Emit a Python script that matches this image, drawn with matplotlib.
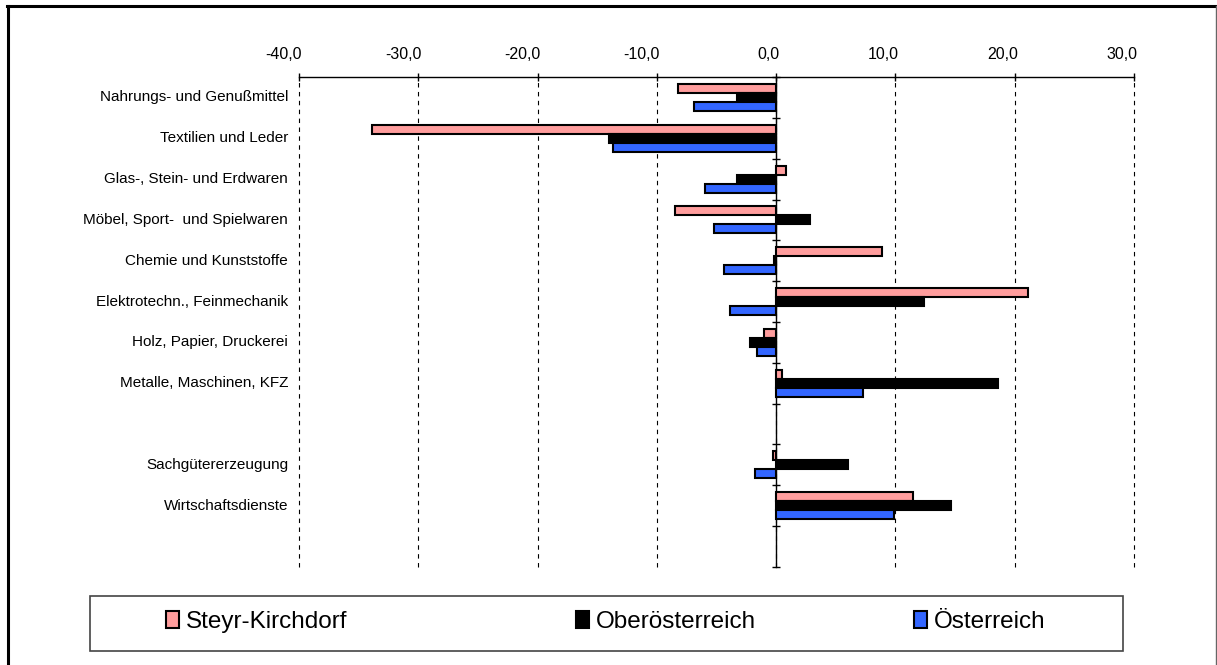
import numpy as np
import matplotlib
matplotlib.use("Agg")
import matplotlib.pyplot as plt
from matplotlib.lines import Line2D
from matplotlib.patches import Rectangle
from matplotlib.transforms import offset_copy

plt.rcParams['font.family'] = ['Liberation Sans', 'DejaVu Sans']

categories = [
    "Nahrungs- und Genußmittel",
    "Textilien und Leder",
    "Glas-, Stein- und Erdwaren",
    "Möbel, Sport-  und Spielwaren",
    "Chemie und Kunststoffe",
    "Elektrotechn., Feinmechanik",
    "Holz, Papier, Druckerei",
    "Metalle, Maschinen, KFZ",
    "",
    "Sachgütererzeugung",
    "Wirtschaftsdienste",
]
series_names = ["Steyr-Kirchdorf", "Oberösterreich", "Österreich"]
steyr = [-8.2, -33.9, 0.8, -8.5, 8.9, 21.1, -1.0, 0.5, np.nan, -0.3, 11.5]
ooe = [-3.3, -14.0, -3.3, 2.8, -0.2, 12.4, -2.2, 18.6, np.nan, 6.0, 14.7]
oe = [-6.9, -13.7, -6.0, -5.2, -4.4, -3.9, -1.6, 7.3, np.nan, -1.8, 9.9]
xticks = [-40, -30, -20, -10, 0, 10, 20, 30]

colors = ["#FF9D9D", "#000000", "#3366FF"]

W, H = 1217, 665
fig = plt.figure(figsize=(W / 100, H / 100), dpi=100)

x0, x1 = 299, 1134
y0, y1 = 77, 567
ax = fig.add_axes([x0 / W, 1 - y1 / H, (x1 - x0) / W, (y1 - y0) / H])

n_slots = len(categories) + 1
centers = np.arange(len(categories)) + 0.5
bh = 0.22
handles = []
for k, (vals, c) in enumerate(zip([steyr, ooe, oe], colors)):
    b = ax.barh(centers + (k - 1) * bh, vals, height=bh, color=c,
                edgecolor="black", linewidth=1.5, zorder=3, label=series_names[k])
    handles.append(b)

ax.set_xlim(xticks[0], xticks[-1])
ax.set_ylim(n_slots, 0)

# x axis on top
ax.xaxis.tick_top()
ax.set_xticks(xticks)
ax.set_xticklabels([])
ax.tick_params(axis="x", direction="inout", length=6, width=1, top=True, bottom=False)
ax.xaxis.grid(True, linestyle=(0, (4, 4)), color="black", linewidth=0.8)
for gl in ax.get_xgridlines():
    gl.set_clip_on(False)
ax.set_axisbelow(True)
xlab_trans = offset_copy(ax.get_xaxis_transform(), fig=fig, x=3, y=18, units="dots")
for v in xticks:
    ax.text(v, 1, f"{v:.1f}".replace(".", ","), transform=xlab_trans,
            ha="right", va="baseline", fontsize=11.5)

# y axis at x=0
ax.spines["left"].set_position(("data", 0))
ax.spines["right"].set_visible(False)
ax.spines["bottom"].set_visible(False)
ax.spines["top"].set_linewidth(1)
ax.spines["left"].set_linewidth(1)
ax.set_yticks(np.arange(n_slots + 1))
ax.set_yticklabels([])
ax.tick_params(axis="y", direction="inout", length=6, width=1)

trans = ax.get_yaxis_transform()
for yc, lab in zip(centers, categories):
    ax.text(-0.013, yc, lab, transform=trans, ha="right", va="center", fontsize=11)

# legend frame
fig.add_artist(Rectangle((90 / W, 1 - 651 / H), (1123 - 90) / W, (651 - 596) / H,
                         transform=fig.transFigure, facecolor="white",
                         edgecolor="#444444", linewidth=1.2))
leg_x = [166, 576, 914]
for h, name, lx in zip(handles, series_names, leg_x):
    fig.legend([h], [name], loc="center left", bbox_to_anchor=(lx / W, 1 - 622 / H),
               frameon=False, fontsize=17.5, handlelength=0.55, handleheight=0.7,
               handletextpad=0.25, borderpad=0, borderaxespad=0)

# figure frame
fig.add_artist(Line2D([7.5 / W, 7.5 / W], [0, 1 - 5.5 / H], color="black", lw=2.2, transform=fig.transFigure))
fig.add_artist(Line2D([6.5 / W, 1216 / W], [1 - 5.5 / H, 1 - 5.5 / H], color="black", lw=2.2, transform=fig.transFigure))
fig.add_artist(Line2D([1216 / W, 1216 / W], [0, 1 - 5.5 / H], color="#666666", lw=1.0, transform=fig.transFigure))

fig.savefig("out.png", dpi=100)
